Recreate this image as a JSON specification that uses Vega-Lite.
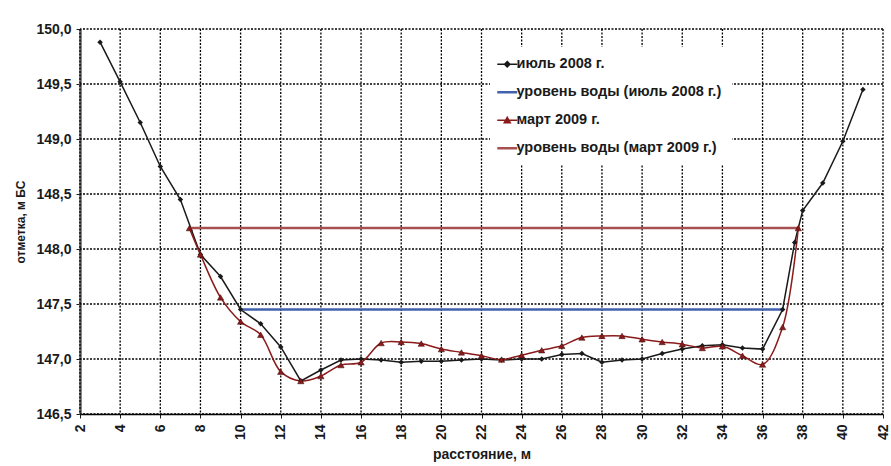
{
  "$schema": "https://vega.github.io/schema/vega-lite/v6.json",
  "width": 803,
  "height": 385,
  "autosize": {"type": "none"},
  "padding": {"left": 80, "top": 29, "right": 8, "bottom": 52},
  "background": "white",
  "config": {
    "view": {"stroke": null},
    "font": "Liberation Sans",
    "axis": {
      "grid": false,
      "labelFont": "Liberation Sans",
      "labelFontWeight": "bold",
      "labelFontSize": 14,
      "labelColor": "#1a1a1a",
      "titleFont": "Liberation Sans",
      "titleFontWeight": "bold",
      "titleColor": "#1a1a1a",
      "tickColor": "#1a1a1a",
      "tickSize": 4
    }
  },
  "layer": [
    {
      "data": {"values": [{"gx": 2}, {"gx": 4}, {"gx": 6}, {"gx": 8}, {"gx": 10}, {"gx": 12}, {"gx": 14}, {"gx": 16}, {"gx": 18}, {"gx": 20}, {"gx": 22}, {"gx": 24}, {"gx": 26}, {"gx": 28}, {"gx": 30}, {"gx": 32}, {"gx": 34}, {"gx": 36}, {"gx": 38}, {"gx": 40}, {"gx": 42}]},
      "mark": {"type": "rule", "color": "#000000", "strokeWidth": 1.3, "strokeDash": [2, 1.5]},
      "encoding": {
        "x": {"field": "gx", "type": "quantitative", "scale": {"domain": [2, 42], "nice": false, "zero": false}}
      }
    },
    {
      "data": {"values": [{"gy": 146.5}, {"gy": 147}, {"gy": 147.5}, {"gy": 148}, {"gy": 148.5}, {"gy": 149}, {"gy": 149.5}, {"gy": 150}]},
      "mark": {"type": "rule", "color": "#000000", "strokeWidth": 1.3, "strokeDash": [2, 1.5]},
      "encoding": {
        "y": {"field": "gy", "type": "quantitative", "scale": {"domain": [146.5, 150], "nice": false, "zero": false}}
      }
    },
    {
      "data": {
        "values": [
          {"series": "июль 2008 г.", "x": 3, "y": 149.88},
          {"series": "июль 2008 г.", "x": 4, "y": 149.52},
          {"series": "июль 2008 г.", "x": 5, "y": 149.15},
          {"series": "июль 2008 г.", "x": 6, "y": 148.75},
          {"series": "июль 2008 г.", "x": 7, "y": 148.45},
          {"series": "июль 2008 г.", "x": 8, "y": 147.95},
          {"series": "июль 2008 г.", "x": 9, "y": 147.75},
          {"series": "июль 2008 г.", "x": 10, "y": 147.45},
          {"series": "июль 2008 г.", "x": 11, "y": 147.32},
          {"series": "июль 2008 г.", "x": 12, "y": 147.11},
          {"series": "июль 2008 г.", "x": 13, "y": 146.80},
          {"series": "июль 2008 г.", "x": 14, "y": 146.90},
          {"series": "июль 2008 г.", "x": 15, "y": 146.99},
          {"series": "июль 2008 г.", "x": 16, "y": 147.00},
          {"series": "июль 2008 г.", "x": 17, "y": 146.99},
          {"series": "июль 2008 г.", "x": 18, "y": 146.97},
          {"series": "июль 2008 г.", "x": 19, "y": 146.98},
          {"series": "июль 2008 г.", "x": 20, "y": 146.98},
          {"series": "июль 2008 г.", "x": 21, "y": 146.99},
          {"series": "июль 2008 г.", "x": 22, "y": 147.00},
          {"series": "июль 2008 г.", "x": 23, "y": 146.99},
          {"series": "июль 2008 г.", "x": 24, "y": 147.00},
          {"series": "июль 2008 г.", "x": 25, "y": 147.00},
          {"series": "июль 2008 г.", "x": 26, "y": 147.04},
          {"series": "июль 2008 г.", "x": 27, "y": 147.05},
          {"series": "июль 2008 г.", "x": 28, "y": 146.97},
          {"series": "июль 2008 г.", "x": 29, "y": 146.99},
          {"series": "июль 2008 г.", "x": 30, "y": 147.00},
          {"series": "июль 2008 г.", "x": 31, "y": 147.05},
          {"series": "июль 2008 г.", "x": 32, "y": 147.09},
          {"series": "июль 2008 г.", "x": 33, "y": 147.12},
          {"series": "июль 2008 г.", "x": 34, "y": 147.13},
          {"series": "июль 2008 г.", "x": 35, "y": 147.10},
          {"series": "июль 2008 г.", "x": 36, "y": 147.09},
          {"series": "июль 2008 г.", "x": 37, "y": 147.45},
          {"series": "июль 2008 г.", "x": 37.6, "y": 148.06},
          {"series": "июль 2008 г.", "x": 38, "y": 148.35},
          {"series": "июль 2008 г.", "x": 39, "y": 148.60},
          {"series": "июль 2008 г.", "x": 40, "y": 148.98},
          {"series": "июль 2008 г.", "x": 41, "y": 149.45},
          {"series": "уровень воды (июль 2008 г.)", "x": 10, "y": 147.45},
          {"series": "уровень воды (июль 2008 г.)", "x": 37, "y": 147.45},
          {"series": "март 2009 г.", "x": 7.45, "y": 148.19},
          {"series": "март 2009 г.", "x": 8, "y": 147.95},
          {"series": "март 2009 г.", "x": 9, "y": 147.56},
          {"series": "март 2009 г.", "x": 10, "y": 147.34},
          {"series": "март 2009 г.", "x": 11, "y": 147.22},
          {"series": "март 2009 г.", "x": 12, "y": 146.885},
          {"series": "март 2009 г.", "x": 13, "y": 146.80},
          {"series": "март 2009 г.", "x": 14, "y": 146.845},
          {"series": "март 2009 г.", "x": 15, "y": 146.945},
          {"series": "март 2009 г.", "x": 16, "y": 146.97},
          {"series": "март 2009 г.", "x": 17, "y": 147.145},
          {"series": "март 2009 г.", "x": 18, "y": 147.155},
          {"series": "март 2009 г.", "x": 19, "y": 147.14},
          {"series": "март 2009 г.", "x": 20, "y": 147.09},
          {"series": "март 2009 г.", "x": 21, "y": 147.06},
          {"series": "март 2009 г.", "x": 22, "y": 147.03},
          {"series": "март 2009 г.", "x": 23, "y": 146.995},
          {"series": "март 2009 г.", "x": 24, "y": 147.035},
          {"series": "март 2009 г.", "x": 25, "y": 147.08},
          {"series": "март 2009 г.", "x": 26, "y": 147.12},
          {"series": "март 2009 г.", "x": 27, "y": 147.195},
          {"series": "март 2009 г.", "x": 28, "y": 147.21},
          {"series": "март 2009 г.", "x": 29, "y": 147.21},
          {"series": "март 2009 г.", "x": 30, "y": 147.18},
          {"series": "март 2009 г.", "x": 31, "y": 147.155},
          {"series": "март 2009 г.", "x": 32, "y": 147.135},
          {"series": "март 2009 г.", "x": 33, "y": 147.10},
          {"series": "март 2009 г.", "x": 34, "y": 147.115},
          {"series": "март 2009 г.", "x": 35, "y": 147.03},
          {"series": "март 2009 г.", "x": 36, "y": 146.95},
          {"series": "март 2009 г.", "x": 37, "y": 147.29},
          {"series": "март 2009 г.", "x": 37.78, "y": 148.19},
          {"series": "уровень воды (март 2009 г.)", "x": 7.45, "y": 148.19},
          {"series": "уровень воды (март 2009 г.)", "x": 37.78, "y": 148.19}
        ]
      },
      "encoding": {
        "x": {
          "field": "x",
          "type": "quantitative",
          "scale": {"domain": [2, 42], "nice": false, "zero": false},
          "axis": {
            "title": "расстояние, м",
            "titleFontSize": 14,
            "values": [2, 4, 6, 8, 10, 12, 14, 16, 18, 20, 22, 24, 26, 28, 30, 32, 34, 36, 38, 40, 42],
            "labelAngle": 270,
            "labelPadding": 6,
            "titlePadding": 8,
            "domainColor": "#000000",
            "domainWidth": 1.5
          }
        },
        "y": {
          "field": "y",
          "type": "quantitative",
          "scale": {"domain": [146.5, 150], "nice": false, "zero": false},
          "axis": {
            "title": "отметка, м БС",
            "titleFontSize": 12,
            "values": [146.5, 147, 147.5, 148, 148.5, 149, 149.5, 150],
            "labelExpr": "replace(format(datum.value, '.1f'), '.', ',')",
            "labelPadding": 5,
            "titlePadding": 8,
            "domainColor": "#606060",
            "domainWidth": 2.5
          }
        },
        "color": {
          "field": "series",
          "type": "nominal",
          "scale": {
            "domain": ["июль 2008 г.", "уровень воды (июль 2008 г.)", "март 2009 г.", "уровень воды (март 2009 г.)"],
            "range": ["#1a1a1a", "#4262ad", "#8b1a1a", "#a85050"]
          },
          "legend": {
            "title": null,
            "orient": "none",
            "legendX": 410,
            "legendY": 18,
            "padding": 10,
            "fillColor": "white",
            "zindex": 2,
            "symbolSize": 400,
            "symbolType": "stroke",
            "labelFont": "Liberation Sans",
            "labelFontWeight": "bold",
            "labelFontSize": 14.5,
            "labelColor": "#1a1a1a",
            "labelOffset": 2,
            "rowPadding": 13,
            "labelLimit": 400,
            "encode": {
              "symbols": {
                "update": {
                  "shape": {"signal": "datum.value == 'июль 2008 г.' ? 'M-1,0H1M0,-0.27L0.27,0L0,0.27L-0.27,0Z' : (datum.value == 'март 2009 г.' ? 'M-1,0H1M0,-0.3L0.3,0.25H-0.3Z' : 'M-1,0H1')"},
                  "fill": {"scale": "color", "field": "value"},
                  "stroke": {"scale": "color", "field": "value"},
                  "strokeWidth": {"signal": "(datum.value == 'июль 2008 г.' || datum.value == 'март 2009 г.') ? 1.5 : 2.5"},
                  "opacity": {"value": 1}
                }
              }
            }
          }
        }
      },
      "layer": [
        {
          "transform": [{"filter": "datum.series == 'июль 2008 г.'"}],
          "mark": {"type": "line", "strokeWidth": 1.5}
        },
        {
          "transform": [{"filter": "datum.series == 'уровень воды (июль 2008 г.)'"}],
          "mark": {"type": "line", "strokeWidth": 2.5}
        },
        {
          "transform": [{"filter": "datum.series == 'март 2009 г.'"}],
          "mark": {"type": "line", "strokeWidth": 1.5, "interpolate": "catmull-rom"}
        },
        {
          "transform": [{"filter": "datum.series == 'уровень воды (март 2009 г.)'"}],
          "mark": {"type": "line", "strokeWidth": 2.5}
        },
        {
          "transform": [{"filter": "datum.series == 'июль 2008 г.'"}],
          "mark": {"type": "point", "shape": "diamond", "filled": true, "size": 30, "opacity": 1}
        },
        {
          "transform": [{"filter": "datum.series == 'март 2009 г.'"}],
          "mark": {"type": "point", "shape": "triangle-up", "filled": true, "size": 40, "opacity": 1, "stroke": "#3a0a0a", "strokeWidth": 0.5}
        }
      ]
    }
  ]
}
